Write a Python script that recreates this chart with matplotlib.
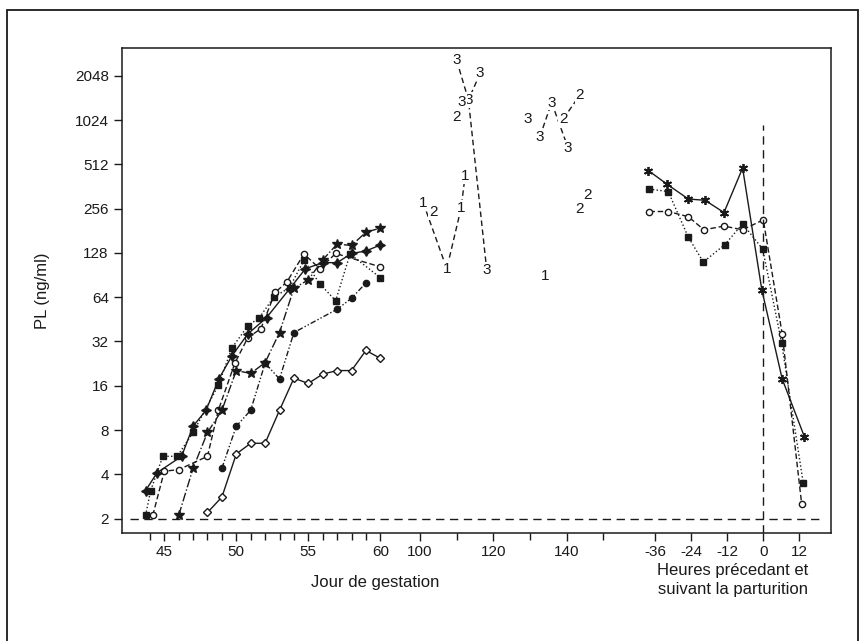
import numpy as np
import matplotlib
matplotlib.use("Agg")
import matplotlib.pyplot as plt
from matplotlib.patches import Rectangle

plt.rcParams['font.family'] = ['Liberation Sans', 'DejaVu Sans']

# ---------------------------------------------------------
# donnees : jours de gestation 43-60
# ---------------------------------------------------------
sq_days = [43.7, 44.05, 44.9, 45.9, 47.0, 48.75, 49.7, 50.8, 51.6, 52.6, 53.7, 54.7, 55.8, 56.9, 57.9, 60.0]
sq_vals = [2.1, 3.1, 5.3, 5.3, 7.7, 16.1, 29, 40.8, 46.5, 64, 74.5, 114, 79, 60.6, 126, 87]

ci_days = [44.2, 45.0, 46.0, 48.0, 48.75, 49.9, 50.8, 51.7, 52.7, 53.5, 54.7, 55.8, 56.9, 60.0]
ci_vals = [2.1, 4.2, 4.3, 5.3, 10.9, 22.8, 34, 39, 69, 81, 126, 100, 127, 103]

st_days = [46, 47, 48, 49, 50, 51, 52, 53, 54, 55, 56, 57, 58, 59, 60]
st_vals = [2.1, 4.4, 7.7, 10.9, 20.3, 19.4, 23, 36.8, 73.5, 84, 115, 147, 144, 177, 189]

pl_days = [43.7, 44.5, 46.2, 47.0, 47.9, 48.8, 49.7, 50.8, 52.1, 53.7, 54.8, 56.0, 57.0, 58.0, 59.0, 60.0]
pl_vals = [3.1, 4.1, 5.3, 8.5, 10.9, 17.9, 25.6, 36, 46.5, 73, 100, 110, 110, 127, 132, 145]

dt_days = [49, 50, 51, 52, 53, 54, 57, 58, 59]
dt_vals = [4.4, 8.5, 10.9, 22.8, 17.8, 36.8, 53, 63, 80]

di_days = [48, 49, 50, 51, 52, 53, 54, 55, 56, 57, 58, 59, 60]
di_vals = [2.2, 2.8, 5.5, 6.5, 6.5, 10.9, 18, 16.6, 19.2, 20.3, 20.3, 27.8, 24.6]

# jours 100-150 : points numerotes (1, 2, 3)
num_lines = [
    ("1", [100.9, 107.3, 111.2, 112.3], [280, 100, 258, 427]),
    ("1", [134.0], [89]),
    ("2", [103.6], [242]),
    ("2", [110.0], [1075]),
    ("2", [139.1, 143.6], [1047, 1520]),
    ("2", [143.5], [254]),
    ("2", [145.6], [318]),
    ("3", [110.0, 113.2, 118.2], [2610, 1410, 98]),
    ("3", [116.4, 113.2], [2130, 1410]),
    ("3", [111.4], [1370]),
    ("3", [129.5], [1047]),
    ("3", [132.7, 135.9, 140.4], [792, 1350, 661]),
]

# heures autour de la parturition
ha_hours = [-38.3, -32.2, -25, -19.4, -13.1, -6.9, -0.5, 6.3, 13.7]
ha_vals = [465, 377, 298, 292, 241, 484, 72, 17.8, 7.2]
hs_hours = [-38, -31.7, -25, -20, -12.8, -6.9, -0.2, 6.1, 13.3]
hs_vals = [348, 335, 164, 111, 146, 202, 136, 31.4, 3.5]
hc_hours = [-38, -31.7, -25, -19.8, -13.1, -6.9, 0, 6.3, 12.8]
hc_vals = [245, 245, 226, 184, 195, 184, 215, 36, 2.5]

y_ticks = [2, 4, 8, 16, 32, 64, 128, 256, 512, 1024, 2048]

# ---------------------------------------------------------
# axe x en trois morceaux (jours 43-60, jours 100-150, heures)
# ---------------------------------------------------------
def day_x(d):
    d = np.asarray(d, dtype=float)
    return np.where(d < 80, 164.3 + (d - 45) * 14.4, 420.0 + (d - 100) * 3.667)

def hour_x(h):
    return 763.3 + np.asarray(h, dtype=float) * 3.0

INK = '#1a1a1a'

fig = plt.figure(figsize=(8.64, 6.41), dpi=100)
W, H = 864, 641
ax = fig.add_axes([122 / W, 1 - 533 / H, (831 - 122) / W, (533 - 48) / H])

# cadre exterieur
fig.patches.append(Rectangle((7 / W, -0.05), (858 - 7) / W, 1 - 10 / H + 0.05,
                             transform=fig.transFigure, fill=False, lw=1.3, ec=INK))

ax.set_yscale('log', base=2)
ax.set_xlim(122, 831)
lo = 2 ** (1 - (533 - 518.5) / 44.4)
hi = 2 ** (11 + (76 - 48) / 44.4)
ax.set_ylim(lo, hi)

ms = 4.5
kw = dict(color=INK, lw=1.0)
ax.plot(day_x(sq_days), sq_vals, ls=':', marker='s', ms=ms, mfc=INK, **kw)
ax.plot(day_x(ci_days), ci_vals, ls=(0, (4, 2)), marker='o', ms=ms, mfc='white', **kw)
ax.plot(day_x(st_days), st_vals, ls='-.', marker='*', ms=ms + 3, mfc=INK, **kw)
ax.plot(day_x(pl_days), pl_vals, ls='-', marker=(4, 1, 0), ms=ms + 2.5, mfc=INK, **kw)
ax.plot(day_x(dt_days), dt_vals, ls=(0, (4, 1.5, 1, 1.5, 1, 1.5)), marker='o', ms=ms, mfc=INK, **kw)
ax.plot(day_x(di_days), di_vals, ls='-', marker='D', ms=ms - 0.8, mfc='white', **kw)

ax.plot(hour_x(ha_hours), ha_vals, ls='-', marker=(6, 2, 0), ms=ms + 2, mew=1.3, **kw)
ax.plot(hour_x(hs_hours), hs_vals, ls=':', marker='s', ms=ms, mfc=INK, **kw)
ax.plot(hour_x(hc_hours), hc_vals, ls=(0, (4, 2)), marker='o', ms=ms, mfc='white', **kw)

for lab, dd, vv in num_lines:
    xx = day_x(dd)
    if len(dd) > 1:
        ax.plot(xx, vv, ls=(0, (4, 2.5)), color=INK, lw=1.0, zorder=2)
    for x, v in zip(xx, vv):
        ax.text(x, v, lab, ha='center', va='center', fontsize=11, color=INK, zorder=3,
                bbox=dict(boxstyle='square,pad=0.05', fc='white', ec='none'))

# ligne de base et parturition
ax.plot([130, 822], [2, 2], ls=(0, (6, 4)), color=INK, lw=1.0)
ax.plot([hour_x(0)] * 2, [lo, 950], ls=(0, (6, 4)), color=INK, lw=1.0)

# graduations
ax.set_yticks(y_ticks)
ax.set_yticklabels([str(t) for t in y_ticks])
ax.yaxis.set_minor_locator(matplotlib.ticker.NullLocator())

maj_days = [45, 50, 55, 60, 100, 120, 140]
maj_hours = [-36, -24, -12, 0, 12]
ax.set_xticks(list(day_x(maj_days)) + list(hour_x(maj_hours)))
ax.set_xticklabels([str(d) for d in maj_days] + [str(h) for h in maj_hours])
minor = list(day_x([d for d in range(44, 61) if d % 5 != 0])) + list(day_x([110, 130, 150]))
ax.set_xticks(minor, minor=True)

ax.tick_params(axis='both', which='major', direction='out', length=6, width=1.0,
               color=INK, labelsize=11, labelcolor=INK)
ax.tick_params(axis='x', which='minor', direction='out', length=5, width=1.0, color=INK)
ax.tick_params(axis='x', pad=3)
for s in ax.spines.values():
    s.set_linewidth(1.1)
    s.set_color(INK)

ax.set_ylabel('PL (ng/ml)', fontsize=12, color=INK, labelpad=18)
fig.text(375 / W, 1 - 582 / H, 'Jour de gestation', ha='center', va='center', fontsize=12, color=INK)
fig.text(733 / W, 1 - 580 / H, 'Heures précedant et\nsuivant la parturition', ha='center',
         va='center', fontsize=12, color=INK, linespacing=1.4)

fig.savefig('out.png', dpi=100)
